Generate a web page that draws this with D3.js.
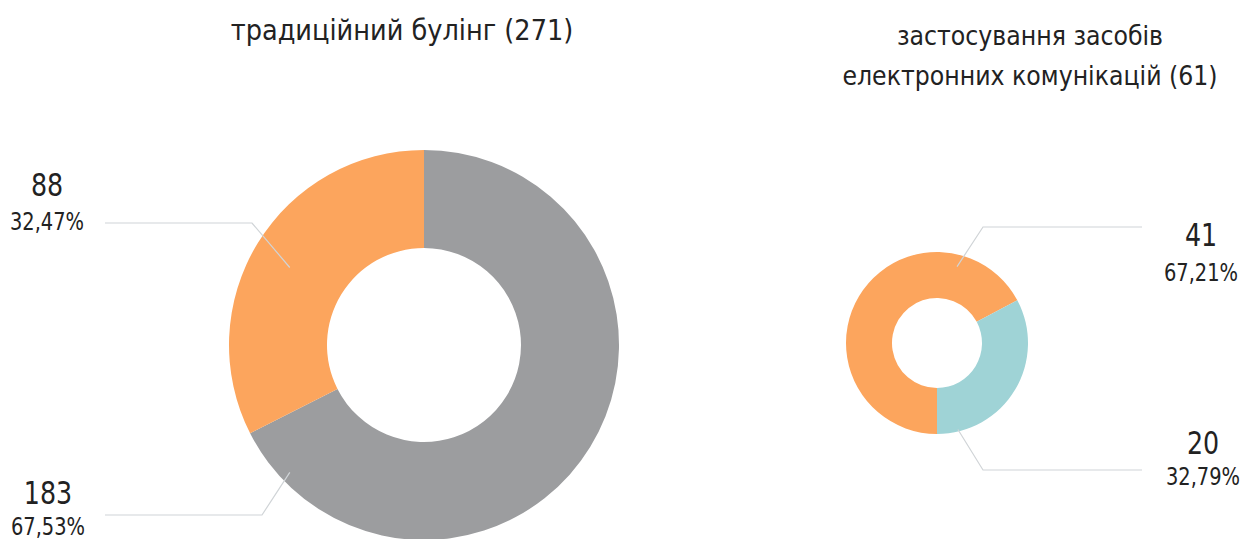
<!DOCTYPE html>
<html>
<head>
<meta charset="utf-8">
<script src="https://cdn.jsdelivr.net/npm/d3@7"></script>
<style>
  html, body { margin: 0; padding: 0; background: #fff; }
  svg { display: block; }
  text { font-family: "Liberation Sans Narrow", "DejaVu Sans Condensed", "Roboto", sans-serif; fill: #222; }
</style>
</head>
<body>
<svg id="chart" width="1244" height="539"></svg>
<script>
// ---- data ----
const chartTitles = [
  ["традиційний булінг (271)"],
  ["застосування засобів", "електронних комунікацій (61)"]
];
const leftCategories = ["інші", "так"];
const leftValues = [183, 88];
const leftPercents = ["67,53%", "32,47%"];
const rightCategories = ["так", "ні"];
const rightValues = [41, 20];
const rightPercents = ["67,21%", "32,79%"];

// ---- layout / styles ----
const svg = d3.select("#chart");
const charts = [
  {
    cats: leftCategories, vals: leftValues, pcts: leftPercents, title: chartTitles[0],
    cx: 424, cy: 345, outer: 195, inner: 97, start: 0,
    colors: ["#9c9d9f", "#fca55d"],
    titleX: 402, titleY: 40, titleSize: 28.5,
    labels: [
      { ang: 226.5, r: 185, elbow: [262, 515], endX: 105, lx: 48, vy: 504, py: 535 },
      { ang: 300, r: 155, elbow: [252, 223], endX: 105, lx: 47, vy: 196, py: 230 }
    ]
  },
  {
    cats: rightCategories, vals: rightValues, pcts: rightPercents, title: chartTitles[1],
    cx: 937, cy: 343, outer: 91, inner: 45, start: 180,
    colors: ["#fca55d", "#9fd3d6"],
    titleX: 1030, titleY: 45, titleSize: 26.3,
    labels: [
      { ang: 374.7, r: 79, elbow: [983, 227], endX: 1142, lx: 1201, vy: 246, py: 281 },
      { ang: 166.4, r: 89, elbow: [983, 470], endX: 1142, lx: 1203, vy: 454, py: 485 }
    ]
  }
];

function scaledText(x, y, size, sx, txt) {
  svg.append("text")
    .attr("transform", `translate(${x},${y}) scale(${sx},1)`)
    .attr("text-anchor", "middle")
    .attr("font-size", size)
    .text(txt);
}

charts.forEach(c => {
  const g = svg.append("g").attr("transform", `translate(${c.cx},${c.cy})`);
  const pie = d3.pie().sort(null).value(d => d)
    .startAngle(c.start * Math.PI / 180)
    .endAngle((c.start + 360) * Math.PI / 180);
  const arc = d3.arc().innerRadius(c.inner).outerRadius(c.outer);
  const color = d3.scaleOrdinal().domain(c.cats).range(c.colors);
  const arcs = pie(c.vals);
  g.selectAll("path.slice").data(arcs).enter().append("path")
    .attr("class", "slice")
    .attr("d", arc)
    .attr("fill", (d, i) => color(c.cats[i]));

  arcs.forEach((d, i) => {
    const L = c.labels[i];
    const p = d3.pointRadial(L.ang * Math.PI / 180, L.r);
    const pts = [[c.cx + p[0], c.cy + p[1]], L.elbow, [L.endX, L.elbow[1]]];
    svg.append("path")
      .attr("d", d3.line()(pts))
      .attr("fill", "none")
      .attr("stroke", "#d0d4d7")
      .attr("stroke-width", 1.2);
    scaledText(L.lx, L.vy, 32, 0.88, d.data);
    scaledText(L.lx, L.py, 24, 0.9, c.pcts[i]);
  });

  c.title.forEach((t, k) => {
    svg.append("text")
      .attr("x", c.titleX).attr("y", c.titleY + k * 40)
      .attr("text-anchor", "middle")
      .attr("font-size", c.titleSize)
      .text(t);
  });
});
</script>
</body>
</html>
